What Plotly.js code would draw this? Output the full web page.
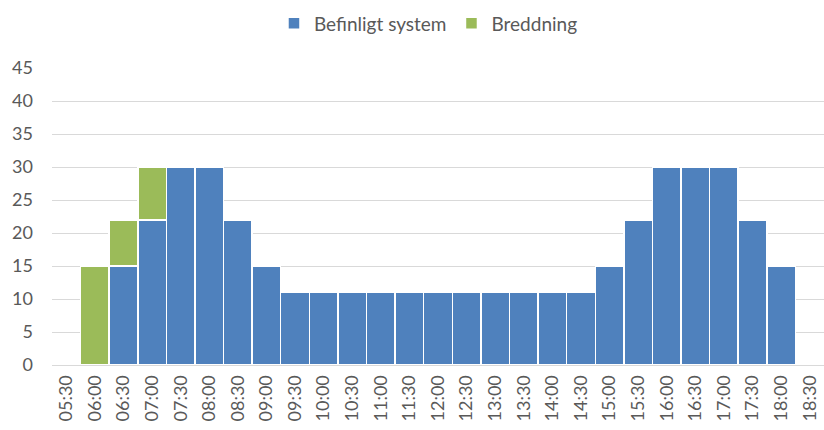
<!DOCTYPE html>
<html><head><meta charset="utf-8">
<script src="https://cdn.plot.ly/plotly-3.0.1.min.js"></script>
<style>html,body{margin:0;padding:0;background:#fff}#c{width:824px;height:430px}</style>
</head><body><div id="c"></div>
<script>
const times = ["05:30","06:00","06:30","07:00","07:30","08:00","08:30","09:00","09:30","10:00","10:30","11:00","11:30","12:00","12:30","13:00","13:30","14:00","14:30","15:00","15:30","16:00","16:30","17:00","17:30","18:00","18:30"];
const befintligt = [0,0,15,22,30,30,22,15,11,11,11,11,11,11,11,11,11,11,11,15,22,30,30,30,22,15,0];
const breddning = [0,15,7,8,0,0,0,0,0,0,0,0,0,0,0,0,0,0,0,0,0,0,0,0,0,0,0];
const font = "Lato, 'Open Sans', sans-serif";
const data = [
  {type:"bar", name:"Befinligt system", x:times, y:befintligt, marker:{color:"#4f81bd", line:{color:"#ffffff", width:1.5}}, hoverinfo:"x+y"},
  {type:"bar", name:"Breddning", x:times, y:breddning, marker:{color:"#9bbb59", line:{color:"#ffffff", width:1.5}}, hoverinfo:"x+y"}
];
const layout = {
  width:824, height:430, barmode:"stack", bargap:0,
  margin:{l:52, r:0, t:68, b:65},
  paper_bgcolor:"#fff", plot_bgcolor:"#fff",
  font:{family:font, color:"#595959", size:18},
  showlegend:true,
  legend:{orientation:"h", x:0.52, xref:"container", xanchor:"center", y:0.99, yref:"container", yanchor:"top", font:{size:19, color:"#595959"}, itemwidth:30, traceorder:"normal"},
  xaxis:{type:"category", tickangle:-90, showgrid:false, showline:true, linecolor:"#d9d9d9", linewidth:1, ticks:"", tickfont:{size:18, color:"#595959"}, ticklabelstandoff:2, automargin:false},
  yaxis:{range:[0,45], dtick:5, showgrid:true, gridcolor:"#d9d9d9", gridwidth:1, zeroline:false, showline:false, ticks:"", tickfont:{size:18, color:"#595959"}, ticklabelstandoff:18, automargin:false}
};
Plotly.newPlot("c", data, layout, {displayModeBar:false, staticPlot:true});
</script></body></html>
